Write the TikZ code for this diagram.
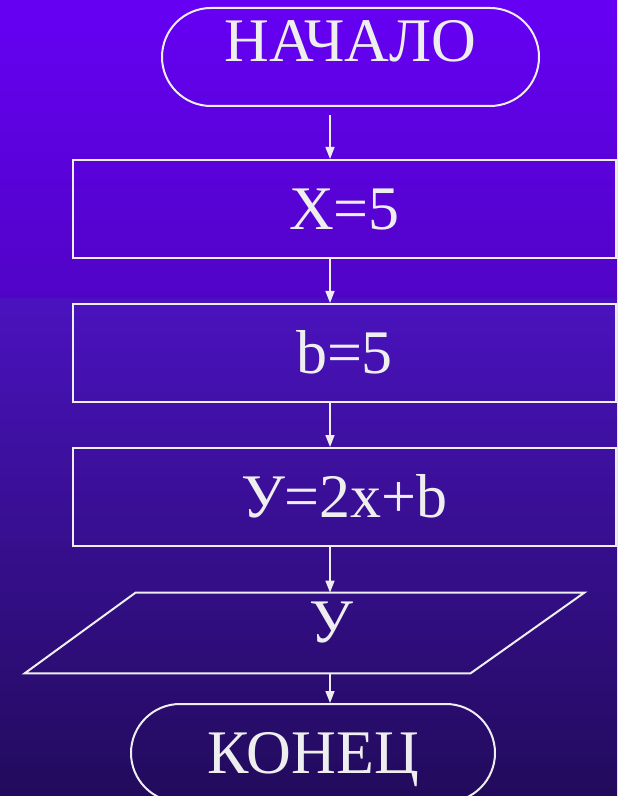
\documentclass[tikz,border=0pt]{standalone}
\usepackage{fontspec}
\setmainfont{Liberation Serif}
\usetikzlibrary{shapes.misc, arrows.meta}
\definecolor{bgtop}{HTML}{6600F4}
\definecolor{bgmid}{HTML}{5104C6}
\definecolor{bglow}{HTML}{4A12BE}
\definecolor{bgbot}{HTML}{220B5C}
\definecolor{ink}{HTML}{EEEEEE}
\tikzset{
    flowtext/.style={text=ink, font=\fontsize{31}{37}\selectfont, text height=20.3pt, text depth=0pt, inner sep=0pt},
    termbox/.style={flowtext, draw=ink, rounded rectangle, line width=1pt, minimum height=49pt},
    procbox/.style={flowtext, draw=ink, rectangle, line width=1pt, minimum width=271.5pt, minimum height=49pt},
    iobox/.style={rectangle, minimum width=279.5pt, minimum height=40pt, inner sep=0pt},
    ioedge/.style={draw=ink, line width=1pt, line join=miter},
    flow/.style={->, draw=ink, line width=0.8pt},
}

\begin{document}
\begin{tikzpicture}[
    x=0.5pt, y=-0.5pt,
    >={Triangle[length=6pt, width=4.5pt]},
]
\useasboundingbox (0,0) rectangle (617,796);
\shade[top color=bgtop, bottom color=bgmid] (0,0) rectangle (617,298);
\shade[top color=bglow, bottom color=bgbot] (0,298) rectangle (617,796);
\coordinate (axis) at (330,0);
\node[termbox, minimum width=188.5pt, text depth=15.5pt] (start) at (350.5,57) {НАЧАЛО};
\node[procbox] (setx) at (344.5,209) {X=5};
\node[procbox] (setb) at (344.5,353) {b=5};
\node[procbox] (calcy) at (344.5,497) {У=2x+b};
\node[iobox] (output) at (304.5,633) {};
\draw[ioedge] ([xshift=55.5pt]output.north west) -- (output.north east)
    -- ([xshift=-57pt]output.south east) -- (output.south west) -- cycle;
\node[flowtext] (outval) at (331,622) {У};
\node[termbox, minimum width=182pt] (finish) at (313,753) {КОНЕЦ};
\draw[flow, shorten <=4pt] (start.south -| axis) -- (setx.north -| axis);
\draw[flow] (setx.south -| axis) -- (setb.north -| axis);
\draw[flow] (setb.south -| axis) -- (calcy.north -| axis);
\draw[flow] (calcy.south -| axis) -- (output.north -| axis);
\draw[flow] (output.south -| axis) -- (finish.north -| axis);
\end{tikzpicture}
\end{document}
